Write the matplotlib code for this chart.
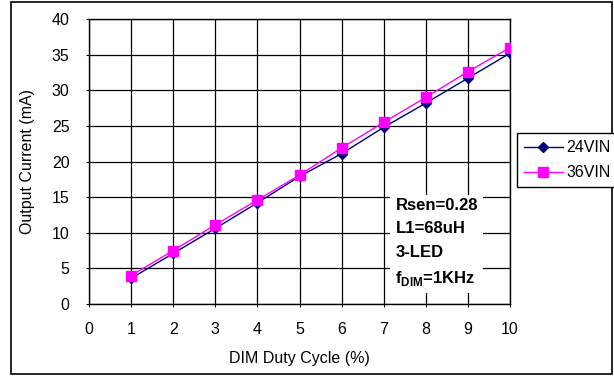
import matplotlib
matplotlib.use("Agg")
import matplotlib.pyplot as plt
from matplotlib.patches import Rectangle

plt.rcParams['font.family'] = ['Liberation Sans', 'DejaVu Sans']
plt.rcParams['mathtext.fontset'] = 'custom'
plt.rcParams['mathtext.rm'] = 'Liberation Sans'
plt.rcParams['mathtext.bf'] = 'Liberation Sans:bold'

duty = [1, 2, 3, 4, 5, 6, 7, 8, 9, 10]
i_24vin = [3.6, 7.1, 10.6, 14.2, 17.9, 21.1, 24.8, 28.2, 31.7, 35.2]
i_36vin = [4.0, 7.5, 11.1, 14.6, 18.1, 21.9, 25.5, 29.0, 32.6, 36.0]
series_names = ['24VIN', '36VIN']
xticks = list(range(0, 11))
yticks = list(range(0, 41, 5))

W, H = 614, 376
fig = plt.figure(figsize=(W / 100, H / 100), dpi=100)
fig.patch.set_facecolor('white')

# outer border
fig.patches.append(Rectangle((11 / W, 2 / H), 601 / W, 372 / H, transform=fig.transFigure,
                             fill=False, edgecolor='black', linewidth=1.2))

ax = fig.add_axes([89 / W, 1 - 304 / H, 421 / W, 285 / H])
ax.set_xlim(0, 10)
ax.set_ylim(0, 40)
ax.set_xticks(xticks)
ax.set_yticks(yticks)
ax.grid(True, color='black', linewidth=0.9)
ax.set_axisbelow(True)
for s in ax.spines.values():
    s.set_color('black')
    s.set_linewidth(1.0)
ax.tick_params(axis='both', direction='out', length=2, width=0.8, labelsize=11.5)
ax.tick_params(axis='x', pad=11)
ax.tick_params(axis='y', pad=12)

l1, = ax.plot(duty, i_24vin, color='#000080', marker='D', markersize=5, linewidth=1.0,
              label=series_names[0], zorder=3)
l2, = ax.plot(duty, i_36vin, color='#FF00FF', marker='s', markersize=7, linewidth=1.0,
              label=series_names[1], zorder=4)

ax.set_xlabel('DIM Duty Cycle (%)', fontsize=11.5, labelpad=10)
ax.set_ylabel('Output Current (mA)', fontsize=11.5, labelpad=12)

ax.text(7.28, 14.85, 'Rsen=0.28\nL1=68uH\n3-LED\nf$_{\\mathbf{DIM}}$=1KHz',
        fontsize=12, fontweight='bold', va='top', ha='left', linespacing=1.69,
        zorder=5,
        bbox=dict(facecolor='white', edgecolor='none', boxstyle='square,pad=0.3'))

leg = fig.legend(handles=[l1, l2], loc='upper left',
                 bbox_to_anchor=(517 / W, 1 - 133 / H), fontsize=11.5,
                 frameon=True, fancybox=False, edgecolor='black', framealpha=1,
                 handlelength=2.4, handletextpad=0.25, borderpad=0.45, labelspacing=0.62,
                 borderaxespad=0)
leg.get_frame().set_linewidth(1.0)

fig.savefig('out.png', dpi=100)
